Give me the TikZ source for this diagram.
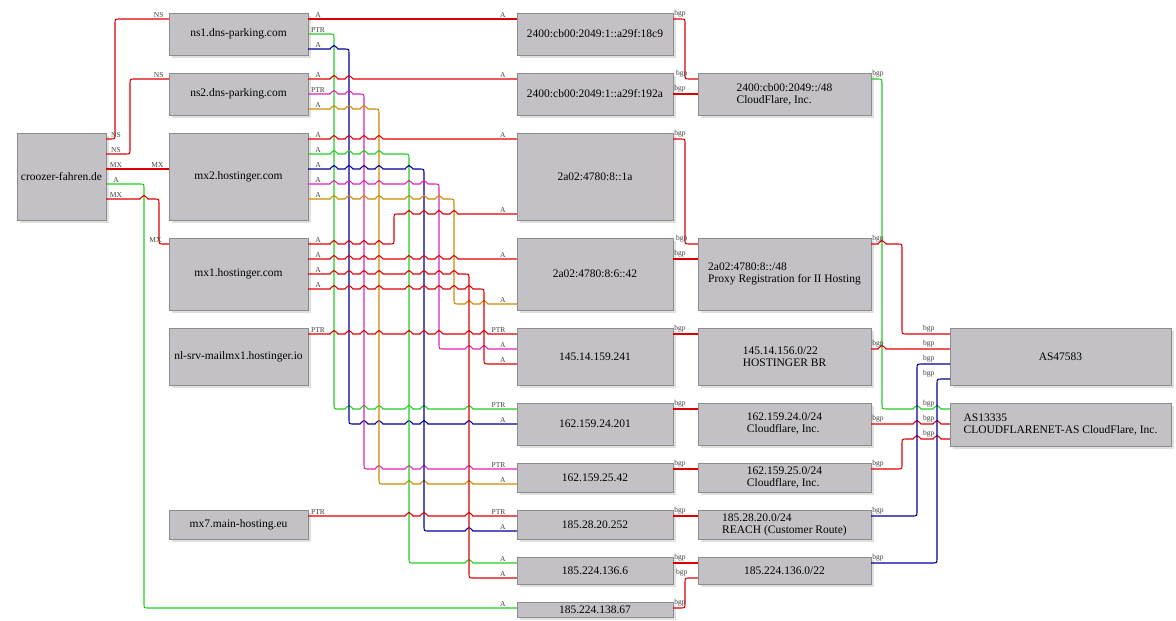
\documentclass[tikz,border=0pt]{standalone}
\usepackage{fontspec}
\setmainfont{Liberation Serif}
\usetikzlibrary{shadows}
\definecolor{boxgray}{HTML}{C3C1C5}
\definecolor{lnred}{HTML}{DD0000}
\definecolor{lngreen}{HTML}{22CC22}
\definecolor{lnblue}{HTML}{000099}
\definecolor{lnpink}{HTML}{DD22BB}
\definecolor{lnorange}{HTML}{CC8800}
\newcommand\boxfont{\fontsize{11.5}{12}\selectfont}
\newcommand\lblfont{\fontsize{7.5}{8}\selectfont}
% little bridge where a horizontal run crosses a vertical one
\newcommand\hops[2]{\foreach \h in {#2}{ -- (\h-4,#1) .. controls (\h-2,#1) and (\h-3,#1-3.5) .. (\h,#1-3.5) .. controls (\h+3,#1-3.5) and (\h+2,#1) .. (\h+4,#1)}}
% turn down (or up) at x=#1 from y=#2 to y=#3, with round corners
\newcommand\down[3]{ -- (#1-5,#2) .. controls (#1,#2) .. (#1,#2+5) -- (#1,#3-5) .. controls (#1,#3) .. (#1+5,#3)}
\newcommand\up[3]{ -- (#1-5,#2) .. controls (#1,#2) .. (#1,#2-5) -- (#1,#3+5) .. controls (#1,#3) .. (#1+5,#3)}
\tikzset{
  box/.style={draw=black!45, fill=boxgray, line width=0.8pt, anchor=north west, inner sep=0pt, outer sep=0pt, font=\boxfont, align=left,
    drop shadow={shadow xshift=3pt, shadow yshift=-3pt, fill=black!12, opacity=1}},
  ln/.style={line width=1.1pt},
  tl/.style={font=\lblfont, text=black!75, inner sep=1pt, anchor=south, xshift=#1},
  tl/.default=10pt,
  hl/.style={font=\lblfont, text=black!75, inner sep=1pt, anchor=south east, xshift=-#1},
  hl/.default=10pt
}
\begin{document}
\begin{tikzpicture}[x=1pt,y=-1pt]
\useasboundingbox (0,0) rectangle (1176,621);
% names
\node[box, minimum width=89pt, minimum height=87pt] (dom) at (17,133) {croozer-fahren.de};
\node[box, minimum width=139pt, minimum height=42pt] (ns1) at (169,13) {ns1.dns-parking.com};
\node[box, minimum width=139pt, minimum height=42pt] (ns2) at (169,73) {ns2.dns-parking.com};
\node[box, minimum width=139pt, minimum height=87pt] (mx2) at (169,133) {mx2.hostinger.com};
\node[box, minimum width=139pt, minimum height=72pt] (mx1) at (169,238) {mx1.hostinger.com};
\node[box, minimum width=139pt, minimum height=57pt] (mailmx) at (169,328) {nl-srv-mailmx1.hostinger.io};
\node[box, minimum width=139pt, minimum height=29pt] (mx7) at (169,510) {mx7.main-hosting.eu};
% addresses
\node[box, minimum width=156pt, minimum height=42pt] (v6a) at (517,13) {2400:cb00:2049:1::a29f:18c9};
\node[box, minimum width=156pt, minimum height=42pt] (v6b) at (517,73) {2400:cb00:2049:1::a29f:192a};
\node[box, minimum width=156pt, minimum height=87pt] (v6c) at (517,133) {2a02:4780:8::1a};
\node[box, minimum width=156pt, minimum height=72pt] (v6d) at (517,238) {2a02:4780:8:6::42};
\node[box, minimum width=156pt, minimum height=57pt] (ipa) at (517,328) {145.14.159.241};
\node[box, minimum width=156pt, minimum height=42pt] (ipb) at (517,403) {162.159.24.201};
\node[box, minimum width=156pt, minimum height=29pt] (ipc) at (517,463) {162.159.25.42};
\node[box, minimum width=156pt, minimum height=29pt] (ipd) at (517,510) {185.28.20.252};
\node[box, minimum width=156pt, minimum height=27pt] (ipe) at (517,557) {185.224.136.6};
\node[box, minimum width=156pt, minimum height=15pt] (ipf) at (517,602) {185.224.138.67};
% prefixes
\node[box, minimum width=173pt, minimum height=42pt] (pfxa) at (698,73) {2400:cb00:2049::/48\\CloudFlare, Inc.};
\node[box, minimum width=173pt, minimum height=72pt] (pfxb) at (698,238) {2a02:4780:8::/48\\Proxy Registration for II Hosting};
\node[box, minimum width=173pt, minimum height=57pt] (pfxc) at (698,328) {145.14.156.0/22\\HOSTINGER BR};
\node[box, minimum width=173pt, minimum height=42pt] (pfxd) at (698,403) {162.159.24.0/24\\Cloudflare, Inc.};
\node[box, minimum width=173pt, minimum height=29pt] (pfxe) at (698,463) {162.159.25.0/24\\Cloudflare, Inc.};
\node[box, minimum width=173pt, minimum height=29pt] (pfxf) at (698,510) {185.28.20.0/24\\REACH (Customer Route)};
\node[box, minimum width=173pt, minimum height=27pt] (pfxg) at (698,557) {185.224.136.0/22};
% AS
\node[box, minimum width=221pt, minimum height=57pt] (as47583) at (950,328) {AS47583};
\node[box, minimum width=221pt, minimum height=43pt] (as13335) at (950,403) {AS13335\\CLOUDFLARENET-AS CloudFlare, Inc.};

% domain records
\draw[ln,lnred] (dom.east |- 0,139) node[tl]{NS} \up{115}{139}{19} -- (ns1.west |- 0,19) node[hl=4pt]{NS};
\draw[ln,lnred] (dom.east |- 0,154) node[tl]{NS} \up{130}{154}{79} -- (ns2.west |- 0,79) node[hl=4pt]{NS};
\draw[ln,lnred] (dom.east |- 0,169) node[tl]{MX} -- (mx2.west |- 0,169) node[hl=4pt]{MX};
\draw[ln,lngreen] (dom.east |- 0,184) node[tl]{A} \down{144}{184}{608} -- (ipf.west |- 0,608) node[hl]{A};
\draw[ln,lnred] (dom.east |- 0,199) node[tl]{MX} \hops{199}{144} \down{159}{199}{244} -- (mx1.west |- 0,244) node[hl=6pt]{MX};

% name servers
\draw[ln,lnred] (ns1.east |- 0,19) node[tl]{A} -- (v6a.west |- 0,19) node[hl]{A};
\draw[ln,lngreen] (ns1.east |- 0,34) node[tl]{PTR} \down{334}{34}{409} \hops{409}{349,364,379,409,424,469} -- (ipb.west |- 0,409) node[hl]{PTR};
\draw[ln,lnblue] (ns1.east |- 0,49) node[tl]{A} \hops{49}{334} \down{349}{49}{424} \hops{424}{364,379,409,424,469} -- (ipb.west |- 0,424) node[hl]{A};
\draw[ln,lnred] (ns2.east |- 0,79) node[tl]{A} \hops{79}{334,349} -- (v6b.west |- 0,79) node[hl]{A};
\draw[ln,lnpink] (ns2.east |- 0,94) node[tl]{PTR} \hops{94}{334,349} \down{364}{94}{469} \hops{469}{379,409,424,469} -- (ipc.west |- 0,469) node[hl]{PTR};
\draw[ln,lnorange] (ns2.east |- 0,109) node[tl]{A} \hops{109}{334,349,364} \down{379}{109}{484} \hops{484}{409,424,469} -- (ipc.west |- 0,484) node[hl]{A};

% mail servers
\draw[ln,lnred] (mx2.east |- 0,139) node[tl]{A} \hops{139}{334,349,364,379} -- (v6c.west |- 0,139) node[hl]{A};
\draw[ln,lngreen] (mx2.east |- 0,154) node[tl]{A} \hops{154}{334,349,364,379} \down{409}{154}{563} \hops{563}{469} -- (ipe.west |- 0,563) node[hl]{A};
\draw[ln,lnblue] (mx2.east |- 0,169) node[tl]{A} \hops{169}{334,349,364,379,409} \down{424}{169}{531} \hops{531}{469} -- (ipd.west |- 0,531) node[hl]{A};
\draw[ln,lnpink] (mx2.east |- 0,184) node[tl]{A} \hops{184}{334,349,364,379,409,424} \down{439}{184}{349} \hops{349}{469,484} -- (ipa.west |- 0,349) node[hl]{A};
\draw[ln,lnorange] (mx2.east |- 0,199) node[tl]{A} \hops{199}{334,349,364,379,409,424,439} \down{454}{199}{304} \hops{304}{469,484} -- (v6d.west |- 0,304) node[hl]{A};
\draw[ln,lnred] (mx1.east |- 0,244) node[tl]{A} \hops{244}{334,349,364,379} \up{394}{244}{214} \hops{214}{409,424,439,454} -- (v6c.west |- 0,214) node[hl]{A};
\draw[ln,lnred] (mx1.east |- 0,259) node[tl]{A} \hops{259}{334,349,364,379,409,424,439,454} -- (v6d.west |- 0,259) node[hl]{A};
\draw[ln,lnred] (mx1.east |- 0,274) node[tl]{A} \hops{274}{334,349,364,379,409,424,439,454} \down{469}{274}{578} -- (ipe.west |- 0,578) node[hl]{A};
\draw[ln,lnred] (mx1.east |- 0,289) node[tl]{A} \hops{289}{334,349,364,379,409,424,439,454,469} \down{484}{289}{364} -- (ipa.west |- 0,364) node[hl]{A};
\draw[ln,lnred] (mailmx.east |- 0,334) node[tl]{PTR} \hops{334}{334,349,364,379,409,424,439,469,484} -- (ipa.west |- 0,334) node[hl]{PTR};
\draw[ln,lnred] (mx7.east |- 0,516) node[tl]{PTR} \hops{516}{409,424,469} -- (ipd.west |- 0,516) node[hl]{PTR};

% address -> prefix
\draw[ln,lnred] (v6a.east |- 0,19) node[tl=7pt]{bgp} \down{685}{19}{79} -- (pfxa.west |- 0,79) node[hl=9pt]{bgp};
\draw[ln,lnred] (v6b.east |- 0,94) node[tl=7pt]{bgp} -- (pfxa.west |- 0,94);
\draw[ln,lnred] (v6c.east |- 0,139) node[tl=7pt]{bgp} \down{685}{139}{244} -- (pfxb.west |- 0,244) node[hl=9pt]{bgp};
\draw[ln,lnred] (v6d.east |- 0,259) node[tl=7pt]{bgp} -- (pfxb.west |- 0,259);
\draw[ln,lnred] (ipa.east |- 0,334) node[tl=7pt]{bgp} -- (pfxc.west |- 0,334);
\draw[ln,lnred] (ipb.east |- 0,409) node[tl=7pt]{bgp} -- (pfxd.west |- 0,409);
\draw[ln,lnred] (ipc.east |- 0,469) node[tl=7pt]{bgp} -- (pfxe.west |- 0,469);
\draw[ln,lnred] (ipd.east |- 0,516) node[tl=7pt]{bgp} -- (pfxf.west |- 0,516);
\draw[ln,lnred] (ipe.east |- 0,563) node[tl=7pt]{bgp} -- (pfxg.west |- 0,563);
\draw[ln,lnred] (ipf.east |- 0,608) node[tl=7pt]{bgp} \up{685}{608}{578} -- (pfxg.west |- 0,578) node[hl=9pt]{bgp};

% prefix -> AS
\draw[ln,lngreen] (pfxa.east |- 0,79) node[tl=7pt]{bgp} \down{882}{79}{409} \hops{409}{917,937} -- (as13335.west |- 0,409) node[hl=14pt]{bgp};
\draw[ln,lnred] (pfxb.east |- 0,244) node[tl=7pt]{bgp} \hops{244}{882} \down{902}{244}{334} -- (as47583.west |- 0,334) node[hl=14pt]{bgp};
\draw[ln,lnred] (pfxc.east |- 0,349) node[tl=7pt]{bgp} \hops{349}{882} -- (as47583.west |- 0,349) node[hl=14pt]{bgp};
\draw[ln,lnred] (pfxd.east |- 0,424) node[tl=7pt]{bgp} \hops{424}{917,937} -- (as13335.west |- 0,424) node[hl=14pt]{bgp};
\draw[ln,lnred] (pfxe.east |- 0,469) node[tl=7pt]{bgp} \up{902}{469}{439} \hops{439}{917,937} -- (as13335.west |- 0,439) node[hl=14pt]{bgp};
\draw[ln,lnblue] (pfxf.east |- 0,516) node[tl=7pt]{bgp} \up{917}{516}{364} -- (as47583.west |- 0,364) node[hl=14pt]{bgp};
\draw[ln,lnblue] (pfxg.east |- 0,563) node[tl=7pt]{bgp} \up{937}{563}{379} -- (as47583.west |- 0,379) node[hl=14pt]{bgp};
\end{tikzpicture}
\end{document}
